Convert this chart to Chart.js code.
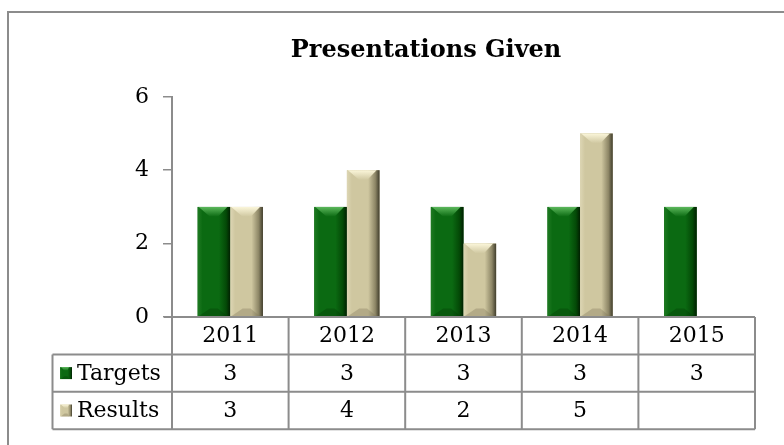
<!DOCTYPE html>
<html>
<head>
<meta charset="utf-8">
<script src="https://cdn.jsdelivr.net/npm/chart.js@4.4.1/dist/chart.umd.min.js"></script>
<style>
  html, body { margin: 0; padding: 0; background: #fff; }
  #wrap { width: 784px; height: 445px; position: relative; }
</style>
</head>
<body>
<div id="wrap"><canvas id="chart" width="784" height="445"></canvas></div>
<script>
'use strict';

// ── Data ──────────────────────────────────────────────────────
const years   = ['2011', '2012', '2013', '2014', '2015'];
const targets = [3, 3, 3, 3, 3];
const results = [3, 4, 2, 5, null];
const yTicks  = [0, 2, 4, 6];

const FONT  = '"DejaVu Serif", "Liberation Serif", serif';
const GRAY  = '#8c8c8c';

const PALETTE = {
  Targets: { light: '#1f7a22', mid: '#0b6a12', dark: '#044a07', darkest: '#011f01', top: '#5cb85c', bottom: '#033a05' },
  Results: { light: '#ddd6b4', mid: '#cfc7a0', dark: '#8d8666', darkest: '#403d2c', top: '#fbf6da', bottom: '#7d7659' },
};

// ── Bevelled bar painter ──────────────────────────────────────
function paintBevel(ctx, l, t, r, b, pal) {
  const w = r - l, h = b - t;
  if (w <= 0 || h <= 0) return;
  const bv = Math.min(10, w * 0.3, h / 2);

  const g = ctx.createLinearGradient(l, 0, r, 0);
  g.addColorStop(0, pal.light);
  g.addColorStop(0.15, pal.mid);
  g.addColorStop(0.65, pal.mid);
  g.addColorStop(0.87, pal.dark);
  g.addColorStop(1, pal.darkest);
  ctx.fillStyle = g;
  ctx.fillRect(l, t, w, h);

  // top chevron
  const tg = ctx.createLinearGradient(0, t, 0, t + bv);
  tg.addColorStop(0, pal.top);
  tg.addColorStop(1, pal.mid);
  ctx.fillStyle = tg;
  ctx.beginPath();
  ctx.moveTo(l + 1, t);
  ctx.lineTo(r - 3, t);
  ctx.lineTo(l + w * 0.62, t + bv);
  ctx.lineTo(l + w * 0.38, t + bv);
  ctx.closePath();
  ctx.fill();

  // bottom bevel
  ctx.fillStyle = pal.bottom;
  ctx.globalAlpha = 0.35;
  ctx.beginPath();
  ctx.moveTo(l + 1, b);
  ctx.lineTo(r - 3, b);
  ctx.lineTo(l + w * 0.62, b - bv * 0.8);
  ctx.lineTo(l + w * 0.38, b - bv * 0.8);
  ctx.closePath();
  ctx.fill();
  ctx.globalAlpha = 1;
}

const bevelBars = {
  id: 'bevelBars',
  afterDatasetsDraw(chart) {
    const ctx = chart.ctx;
    ctx.save();
    chart.data.datasets.forEach((ds, i) => {
      const meta = chart.getDatasetMeta(i);
      meta.data.forEach((bar, j) => {
        if (ds.data[j] == null) return;
        const p = bar.getProps(['x', 'y', 'base', 'width'], true);
        paintBevel(ctx, p.x - p.width / 2, p.y, p.x + p.width / 2, p.base, PALETTE[ds.label]);
      });
    });
    ctx.restore();
  }
};

// ── Outer frame + data table ──────────────────────────────────
const frameAndTable = {
  id: 'frameAndTable',
  beforeDraw(chart) {
    const ctx = chart.ctx;
    ctx.save();
    ctx.fillStyle = '#fff';
    ctx.fillRect(0, 0, chart.width, chart.height);
    ctx.strokeStyle = GRAY;
    ctx.lineWidth = 2;
    ctx.strokeRect(8, 12, 900, 600);
    ctx.restore();
  },
  afterDraw(chart) {
    const ctx = chart.ctx;
    const xs = chart.scales.x;
    const area = chart.chartArea;
    const rowH = 37.4;
    const top = area.bottom;
    const legendLeft = 52.5;
    const step = (area.right - area.left) / years.length;

    ctx.save();
    ctx.strokeStyle = GRAY;
    ctx.lineWidth = 2;

    // horizontal lines
    ctx.beginPath();
    ctx.moveTo(area.left - 8, top); ctx.lineTo(area.right, top);
    for (let r = 1; r <= 3; r++) {
      ctx.moveTo(legendLeft, top + rowH * r); ctx.lineTo(area.right, top + rowH * r);
    }
    // vertical lines
    for (let c = 0; c <= years.length; c++) {
      const x = area.left + step * c;
      ctx.moveTo(x, top); ctx.lineTo(x, top + rowH * 3);
    }
    ctx.moveTo(legendLeft, top + rowH); ctx.lineTo(legendLeft, top + rowH * 3);
    ctx.stroke();

    ctx.fillStyle = '#000';
    ctx.font = '22px ' + FONT;
    ctx.textAlign = 'center';
    ctx.textBaseline = 'middle';
    years.forEach((yr, i) => {
      const cx = xs.getPixelForValue(i);
      ctx.fillText(yr, cx, top + rowH * 0.5 + 1);
      ctx.fillText(String(targets[i]), cx, top + rowH * 1.5 + 1);
      if (results[i] != null) ctx.fillText(String(results[i]), cx, top + rowH * 2.5 + 1);
    });

    // legend keys
    chart.data.datasets.forEach((ds, k) => {
      const cy = top + rowH * (k + 1.5);
      paintBevel(ctx, 60, cy - 6, 72, cy + 6, PALETTE[ds.label]);
      ctx.fillStyle = '#000';
      ctx.textAlign = 'left';
      ctx.fillText(ds.label, 77, cy + 1);
    });
    ctx.restore();
  }
};

new Chart(document.getElementById('chart'), {
  type: 'bar',
  data: {
    labels: years,
    datasets: [
      { label: 'Targets', data: targets, backgroundColor: PALETTE.Targets.mid },
      { label: 'Results', data: results, backgroundColor: PALETTE.Results.mid },
    ]
  },
  options: {
    responsive: false,
    animation: false,
    events: [],
    layout: { padding: { left: 97, right: 29, top: 12, bottom: 128 } },
    datasets: { bar: { categoryPercentage: 0.56, barPercentage: 1.0, borderWidth: 0 } },
    plugins: {
      legend: { display: false },
      tooltip: { enabled: false },
      title: {
        display: true,
        text: 'Presentations Given',
        color: '#000',
        font: { family: FONT, size: 24, weight: 'bold', lineHeight: 1.2 },
        padding: { top: 24, bottom: 32 }
      }
    },
    scales: {
      x: { display: false },
      y: {
        min: 0, max: 6,
        afterFit: s => { s.width = 75; },
        afterBuildTicks: s => { s.ticks = yTicks.map(v => ({ value: v })); },
        ticks: { color: '#000', padding: 14, font: { family: FONT, size: 22 } },
        grid: { drawOnChartArea: false, drawTicks: true, tickLength: 9, color: GRAY, lineWidth: 1.5 },
        border: { display: true, color: GRAY, width: 2 }
      }
    }
  },
  plugins: [frameAndTable, bevelBars]
});
</script>
</body>
</html>
